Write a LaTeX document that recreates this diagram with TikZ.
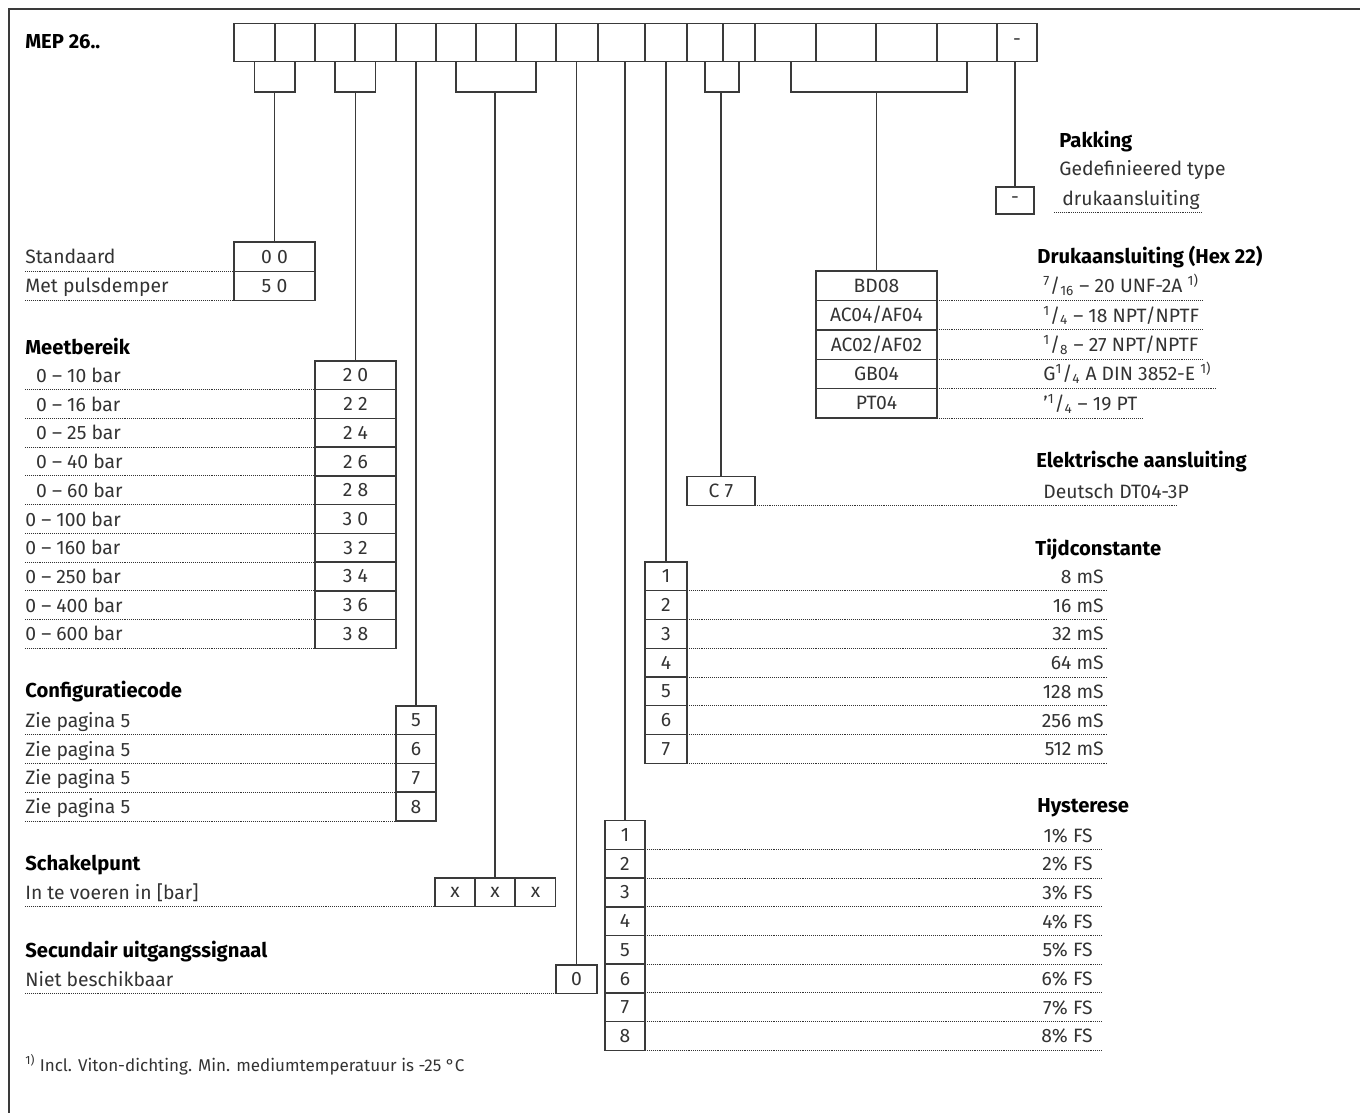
\documentclass[tikz,border=0pt]{standalone}
\usepackage{fontspec}
\setmainfont{Fira Sans}
\usepackage{tikz}
\usetikzlibrary{positioning}
\definecolor{Ink}{HTML}{333333}
\definecolor{Frame}{HTML}{3A3A3A}

\begin{document}
\begin{tikzpicture}[x=0.02cm, y=-0.02cm,
  cell/.style={draw=Frame,line width=0.8pt,inner sep=0pt,outer sep=0pt,minimum width=0.8cm,minimum height=0.575cm,text=Ink,font=\fontsize{11}{13}\selectfont},
  lbl/.style={anchor=base west,inner sep=0pt,text=Ink,font=\fontsize{11}{13}\selectfont},
  val/.style={lbl,anchor=base east},
  head/.style={lbl,text=black,font=\fontsize{11.5}{13}\selectfont\bfseries},
  wire/.style={draw=Frame,line width=0.8pt},
  dots/.style={draw=Ink,line width=0.5pt,dash pattern=on 0.5pt off 0.6pt}
]
\useasboundingbox (0,0) rectangle (1360,1113);
\draw[Frame,line width=0.7pt] (9,1113) -- (9,9) -- (1360,9);

% code strip
\node[head] (title) at (25,48) {MEP 26..};
\foreach \l/\r [count=\i] in {234/275,275/315,315/355,355/396,396/436,436/476,476/516,516/556,556/598,598/645,645/687,687/723,723/755,755/816,816/876,876/937,937/997}
  {\pgfmathsetmacro\w{(\r-\l)*0.02}
   \node[cell,minimum width=\w cm,minimum height=0.77cm] (c\i) at ({(\l+\r)/2},42.5) {};}
\node[cell,minimum width=0.8cm,minimum height=0.77cm] (c18) at (1017,42.5) {-};

% brackets under the strip
\coordinate (brk) at (0,92);
\draw[wire] (c1.south) |- (brk -| c2.south) -- (c2.south);
\draw[wire] (c3.south) |- (brk -| c4.south) -- (c4.south);
\draw[wire] (c6.south) |- (brk -| c8.south) -- (c8.south);
\draw[wire] (c12.south) |- (brk -| c13.south) -- (c13.south);
\draw[wire] ([xshift=0.11cm]c14.south) |- (brk -| c17.south) -- (c17.south);

% Standaard / pulsdemper
\foreach \v/\t [count=\i] in {0 0/Standaard,5 0/Met pulsdemper} {
  \pgfmathsetmacro\y{242+(\i-0.5)*29.3}
  \node[cell,minimum width=1.62cm,minimum height=0.586cm] (std\i) at (274.5,\y) {\v};
  \node[lbl] (stdl\i) at (25,\y+7) {\t};
  \draw[dots] (stdl\i.west |- std\i.south west) -- (std\i.south west);
}

% Meetbereik
\node[head] (rngh) at (25,354) {Meetbereik};
\foreach \v/\t [count=\i] in {2 0/\phantom{0}0 – 10 bar,2 2/\phantom{0}0 – 16 bar,2 4/\phantom{0}0 – 25 bar,2 6/\phantom{0}0 – 40 bar,2 8/\phantom{0}0 – 60 bar,3 0/0 – 100 bar,3 2/0 – 160 bar,3 4/0 – 250 bar,3 6/0 – 400 bar,3 8/0 – 600 bar} {
  \pgfmathsetmacro\y{361+(\i-0.5)*28.73}
  \node[cell,minimum width=1.62cm] (rng\i) at (355.5,\y) {\v};
  \node[lbl] (rngl\i) at (25,\y+7) {\t};
  \draw[dots] (rngl\i.west |- rng\i.south west) -- (rng\i.south west);
}

% Configuratiecode
\node[head] (cfgh) at (25,697) {Configuratiecode};
\foreach \v [count=\i] in {5,6,7,8} {
  \pgfmathsetmacro\y{706+(\i-0.5)*28.73}
  \node[cell] (cfg\i) at (416,\y) {\v};
  \node[lbl] (cfgl\i) at (25,\y+7) {Zie pagina 5};
  \draw[dots] (cfgl\i.west |- cfg\i.south west) -- (cfg\i.south west);
}

% Schakelpunt
\node[head] (swh) at (25,870) {Schakelpunt};
\foreach \x [count=\i] in {455,495,535.5}
  \node[cell] (sw\i) at (\x,892.4) {x};
\node[lbl] (swl) at (25,899.4) {In te voeren in [bar]};
\draw[dots] (swl.west |- sw1.south west) -- (sw1.south west);

% Secundair uitgangssignaal
\node[head] (sech) at (25,957) {Secundair uitgangssignaal};
\node[cell,minimum width=0.82cm] (sec1) at (576.5,979.4) {0};
\node[lbl] (secl) at (25,986.4) {Niet beschikbaar};
\draw[dots] (secl.west |- sec1.south west) -- (sec1.south west);

% Pakking
\node[head] (pakh) at (1059,147) {Pakking};
\node[lbl] (pakl1) at (1059,175) {Gedefinieered type};
\node[lbl] (pakl2) at (1062,205) {drukaansluiting};
\node[cell,minimum width=0.76cm,minimum height=0.54cm] (pak1) at (1015,200.5) {-};
\draw[dots] ([shift={(-8,7)}]pakl2.base west) -- ++(148,0);

% Drukaansluiting
\node[head] (prth) at (1037,263) {Drukaansluiting (Hex 22)};
\foreach \v/\t/\e [count=\i] in {
  BD08/{\textsuperscript{7}/\textsubscript{16} – 20 UNF-2A \textsuperscript{1)}}/1203,
  {AC04/AF04}/{\textsuperscript{1}/\textsubscript{4} – 18 NPT/NPTF}/1203,
  {AC02/AF02}/{\textsuperscript{1}/\textsubscript{8} – 27 NPT/NPTF}/1203,
  GB04/{G\textsuperscript{1}/\textsubscript{4} A DIN 3852-E \textsuperscript{1)}}/1216,
  PT04/{'\textsuperscript{1}/\textsubscript{4} – 19 PT}/1142} {
  \pgfmathsetmacro\y{271+(\i-0.5)*29.4}
  \node[cell,minimum width=2.42cm,minimum height=0.588cm] (prt\i) at (876.5,\y) {\v};
  \node[lbl] (prtv\i) at (1043,\y+7) {\t};
  \draw[dots] (prt\i.south east) -- ++({\e-937},0);
}

% Elektrische aansluiting
\node[head] (eleh) at (1036,467) {Elektrische aansluiting};
\node[cell,minimum width=1.36cm] (ele1) at (721,491) {C 7};
\node[lbl] (elev) at (1043,498) {Deutsch DT04-3P};
\coordinate (eleend) at (1177,0);
\draw[dots] (ele1.south east) -- (ele1.south east -| eleend);

% Tijdconstante
\node[head] (timh) at (1035,555) {Tijdconstante};
\coordinate (timend) at (1107,0);
\foreach \v [count=\i] in {8,16,32,64,128,256,512} {
  \pgfmathsetmacro\y{562+(\i-0.5)*28.75}
  \node[cell,minimum width=0.84cm] (tim\i) at (666,\y) {\i};
  \node[val] (timv\i) at (1104,\y+7) {\v~mS};
  \draw[dots] (tim\i.south east) -- (tim\i.south east -| timend);
}

% Hysterese
\node[head] (hysh) at (1037,812) {Hysterese};
\coordinate (hysend) at (1102,0);
\foreach \i in {1,...,8} {
  \pgfmathsetmacro\y{820.7+(\i-0.5)*28.7}
  \node[cell] (hys\i) at (625,\y) {\i};
  \node[val] (hysv\i) at (1093,\y+7) {\i\% FS};
  \draw[dots] (hys\i.south east) -- (hys\i.south east -| hysend);
}

% stems from the strip to the tables
\draw[wire] (std1.north |- brk) -- (std1.north);
\draw[wire] (rng1.north |- brk) -- (rng1.north);
\draw[wire] (cfg1.north |- c5.south) -- (cfg1.north);
\draw[wire] (sw2.north |- brk) -- (sw2.north);
\draw[wire] (sec1.north |- c9.south) -- (sec1.north);
\draw[wire] (hys1.north |- c10.south) -- (hys1.north);
\draw[wire] (tim1.north |- c11.south) -- (tim1.north);
\draw[wire] (ele1.north |- brk) -- (ele1.north);
\draw[wire] (prt1.north |- brk) -- (prt1.north);
\draw[wire] (pak1.north |- c18.south) -- (pak1.north);

% footnote
\node[lbl,font=\fontsize{9.7}{11}\selectfont] (note) at (25,1071) {\textsuperscript{1)} Incl. Viton-dichting. Min. mediumtemperatuur is -25 °C};
\end{tikzpicture}
\end{document}
